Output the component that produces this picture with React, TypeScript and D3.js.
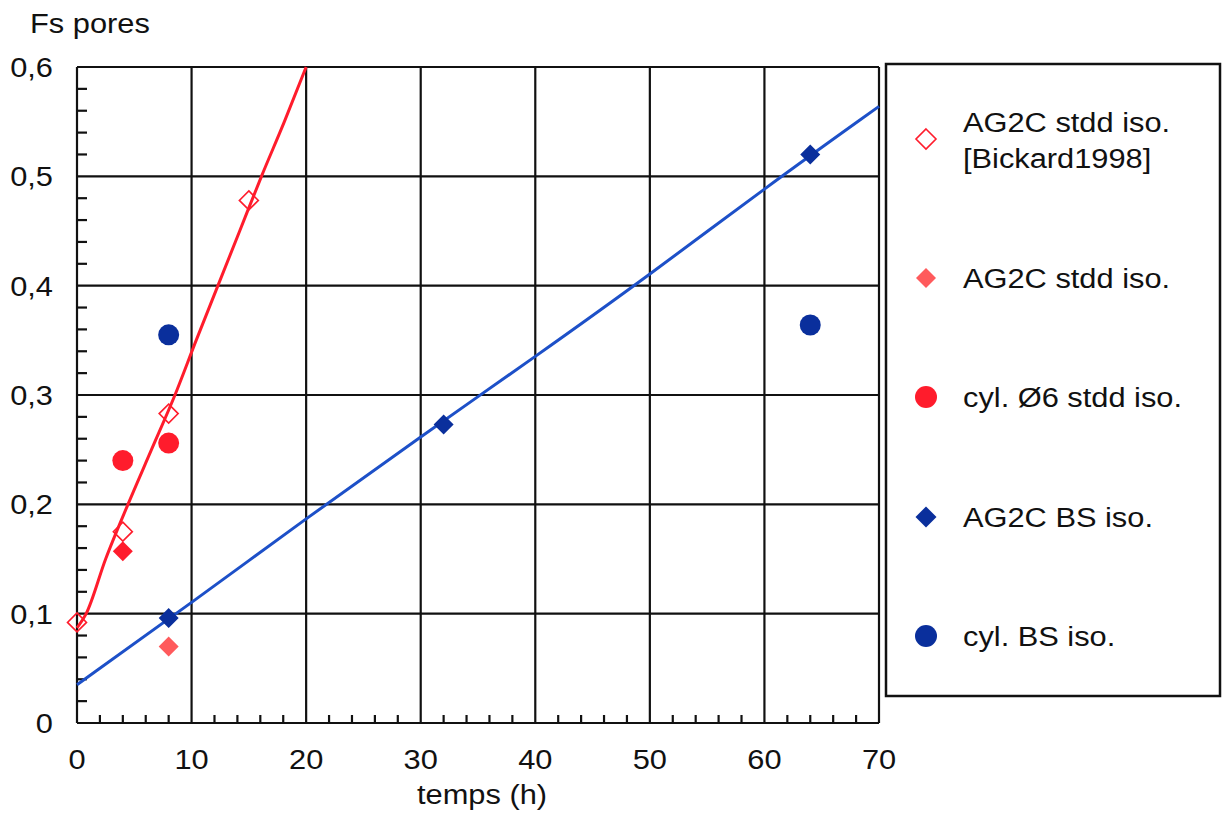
import React from "react";
import * as d3 from "d3";

// ---- data ----
const xTicks = [0, 10, 20, 30, 40, 50, 60, 70];
const yTicks = [0, 0.1, 0.2, 0.3, 0.4, 0.5, 0.6];
const yTickLabels = ["0", "0,1", "0,2", "0,3", "0,4", "0,5", "0,6"];

// fitted curves
const redLine: [number, number][] = [
  [0, 0.087], [0.8, 0.1], [2.5, 0.15], [4.45, 0.2], [6.5, 0.25], [8.55, 0.3],
  [10.4, 0.35], [12.3, 0.4], [14.2, 0.45], [16.1, 0.5], [18.1, 0.55], [20, 0.6],
];
const blueLine: [number, number][] = [
  [0, 0.035], [10, 0.11], [20, 0.187], [30, 0.262], [40, 0.335], [50, 0.41], [60, 0.489], [70, 0.564],
];

// series points
const bickard: [number, number][] = [[0, 0.092], [4, 0.175], [8, 0.283], [15, 0.478]];
const ag2cStdd: [number, number][] = [[4, 0.157], [8, 0.07]];
const cylStdd: [number, number][] = [[4, 0.24], [8, 0.256]];
const ag2cBS: [number, number][] = [[8, 0.096], [32, 0.273], [64, 0.52]];
const cylBS: [number, number][] = [[8, 0.355], [64, 0.364]];

const legendLabels = [
  ["AG2C stdd iso.", "[Bickard1998]"],
  ["AG2C stdd iso."],
  ["cyl. Ø6 stdd iso."],
  ["AG2C BS iso."],
  ["cyl. BS iso."],
];

const W = 1224;
const H = 815;
const FONT = "'Liberation Sans', Arial, Helvetica, sans-serif";
const SX = 1.1;

const RED = "#ff1c2c";
const SALMON = "#ff5a5c";
const BLUE_LINE = "#1d50c8";
const NAVY = "#0a2f9c";

function diamond(cx: number, cy: number, r: number) {
  return `M${cx},${cy - r}L${cx + r},${cy}L${cx},${cy + r}L${cx - r},${cy}Z`;
}

function T({ x, y, anchor = "start", children }: any) {
  return (
    <text
      transform={`translate(${x},${y}) scale(${SX},1)`}
      textAnchor={anchor}
      fontFamily={FONT}
      fontSize={28}
      fill="#111"
    >
      {children}
    </text>
  );
}

export default function App() {
  const x = d3.scaleLinear().domain([0, 70]).range([77, 879]);
  const y = d3.scaleLinear().domain([0, 0.6]).range([723, 67]);
  const redPath = d3
    .line<[number, number]>()
    .x((d) => x(d[0]))
    .y((d) => y(d[1]))
    .curve(d3.curveMonotoneX);
  const bluePath = d3
    .line<[number, number]>()
    .x((d) => x(d[0]))
    .y((d) => y(d[1]))
    .curve(d3.curveBasis);

  const yMinor = d3.range(0, 0.6001, 0.02).filter((v) => Math.abs(v * 10 - Math.round(v * 10)) > 1e-6);
  const xMinor = d3.range(0, 70.001, 2).filter((v) => v % 10 !== 0);

  const legendY = [139, 278, 397, 517, 636];
  const legendTextY = [[132, 168], [288], [407], [527], [646]];
  const lx = 926;
  const tx = 963;

  return (
    <svg
      width={W}
      height={H}
      style={{ position: "absolute", left: 0, top: 0, background: "#fff" }}
    >
      <rect x={0} y={0} width={W} height={H} fill="#fff" />
      {/* grid */}
      {xTicks.map((t) => (
        <line key={"gx" + t} x1={x(t)} x2={x(t)} y1={y(0)} y2={y(0.6)} stroke="#111" strokeWidth={2.2} />
      ))}
      {yTicks.map((t) => (
        <line key={"gy" + t} x1={x(0)} x2={x(70)} y1={y(t)} y2={y(t)} stroke="#111" strokeWidth={2.2} />
      ))}
      {/* minor ticks */}
      {yMinor.map((t) => (
        <line key={"my" + t} x1={x(0)} x2={x(0) + 10} y1={y(t)} y2={y(t)} stroke="#111" strokeWidth={2.2} />
      ))}
      {xMinor.map((t) => (
        <line key={"mx" + t} x1={x(t)} x2={x(t)} y1={y(0)} y2={y(0) - 8} stroke="#111" strokeWidth={2.2} />
      ))}
      {/* axis labels */}
      {yTicks.map((t, i) => (
        <T key={"yl" + t} x={53} y={y(t) + 10} anchor="end">
          {yTickLabels[i]}
        </T>
      ))}
      {xTicks.map((t) => (
        <T key={"xl" + t} x={x(t)} y={769} anchor="middle">
          {String(t)}
        </T>
      ))}
      <T x={30} y={33}>Fs pores</T>
      <T x={482} y={804} anchor="middle">temps (h)</T>

      {/* lines */}
      <path d={bluePath(blueLine) || ""} fill="none" stroke={BLUE_LINE} strokeWidth={3} />
      <path d={redPath(redLine) || ""} fill="none" stroke={RED} strokeWidth={3} />

      {/* points */}
      {bickard.map((d, i) => (
        <path key={"bk" + i} d={diamond(x(d[0]), y(d[1]), 9.5)} fill="none" stroke={RED} strokeWidth={1.6} />
      ))}
      {ag2cStdd.map((d, i) => (
        <path key={"as" + i} d={diamond(x(d[0]), y(d[1]), 10)} fill={i === 0 ? RED : SALMON} />
      ))}
      {cylStdd.map((d, i) => (
        <circle key={"cs" + i} cx={x(d[0])} cy={y(d[1])} r={10.5} fill={RED} />
      ))}
      {ag2cBS.map((d, i) => (
        <path key={"ab" + i} d={diamond(x(d[0]), y(d[1]), 10)} fill={NAVY} />
      ))}
      {cylBS.map((d, i) => (
        <circle key={"cb" + i} cx={x(d[0])} cy={y(d[1])} r={10.5} fill={NAVY} />
      ))}

      {/* legend */}
      <rect x={886} y={64} width={334} height={632} fill="#fff" stroke="#111" strokeWidth={2.5} />
      <path d={diamond(lx, legendY[0], 10)} fill="none" stroke={RED} strokeWidth={1.6} />
      <path d={diamond(lx, legendY[1], 10)} fill={SALMON} />
      <circle cx={lx} cy={legendY[2]} r={11} fill={RED} />
      <path d={diamond(lx, legendY[3], 10.5)} fill={NAVY} />
      <circle cx={lx} cy={legendY[4]} r={11} fill={NAVY} />
      {legendLabels.map((lines, i) =>
        lines.map((s, j) => (
          <T key={"lg" + i + "_" + j} x={tx} y={legendTextY[i][j]}>
            {s}
          </T>
        ))
      )}
    </svg>
  );
}
